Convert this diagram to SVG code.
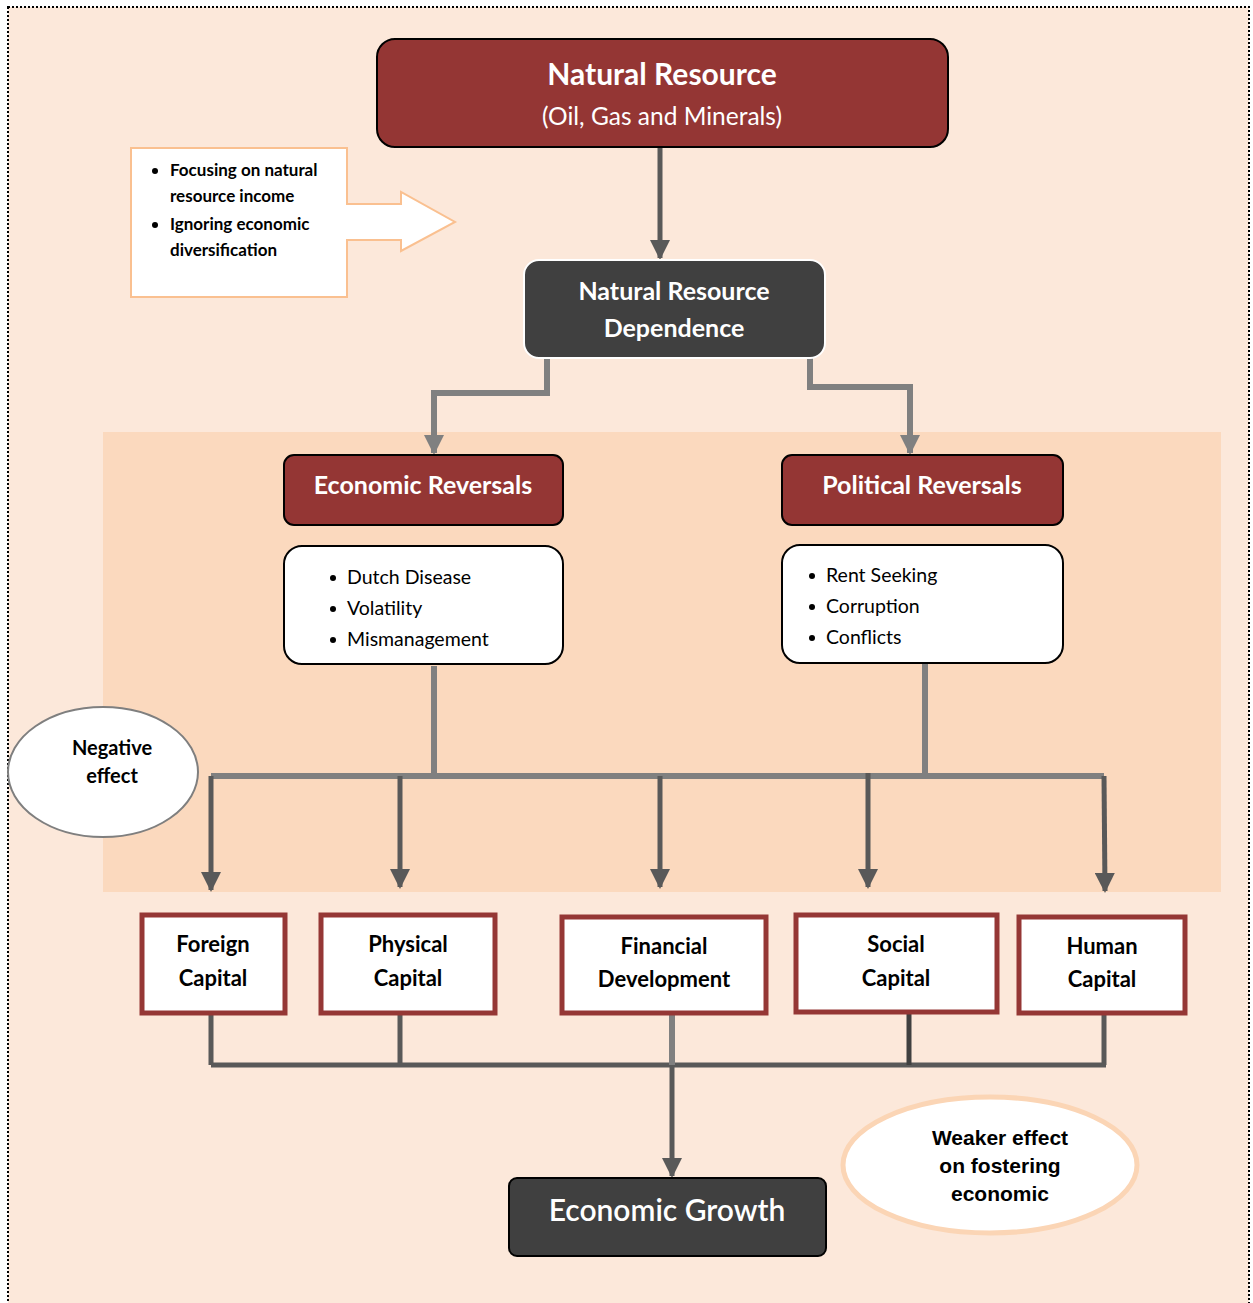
<svg xmlns="http://www.w3.org/2000/svg" width="1253" height="1303" viewBox="0 0 1253 1303">
<defs>
<style>
.t{font-family:Lato,"Open Sans","Liberation Sans",sans-serif;}
.w{fill:#fff;}
.b{font-weight:bold;}
.red{fill:#943634;stroke:#000;stroke-width:2;}
.dark{fill:#404040;}
.cap{fill:#fff;stroke:#953735;stroke-width:5;}
.lbl{font-family:Lato,"Open Sans","Liberation Sans",sans-serif;font-weight:bold;font-size:22px;fill:#000;text-anchor:middle;}
.c1{fill:none;stroke:#808080;stroke-width:6;}
.c2{fill:none;stroke:#595959;stroke-width:5;}
</style>
<marker id="ad" viewBox="0 0 10 10" refX="9" refY="5" markerWidth="4" markerHeight="4" orient="auto" markerUnits="strokeWidth">
<path d="M0,0 L10,5 L0,10 z" fill="#595959"/>
</marker>
<marker id="ag" viewBox="0 0 10 10" refX="9" refY="5" markerWidth="3.4" markerHeight="3.4" orient="auto" markerUnits="strokeWidth">
<path d="M0,0 L10,5 L0,10 z" fill="#808080"/>
</marker>
</defs>
<rect x="8" y="7" width="1241" height="1300" fill="#fce8da" stroke="#000" stroke-width="2" stroke-dasharray="2 2"/>
<rect x="103" y="432" width="1118" height="460" fill="#fbd9be"/>

<g id="connectors">
<line x1="660" y1="147" x2="660" y2="258" class="c2" marker-end="url(#ad)"/>
<polyline points="547,358 547,393 434,393 434,453" class="c1" marker-end="url(#ag)"/>
<polyline points="810,358 810,387 910,387 910,453" class="c1" marker-end="url(#ag)"/>
<line x1="434" y1="666" x2="434" y2="776" class="c1"/>
<line x1="925" y1="663" x2="925" y2="773" class="c1"/>
<line x1="211" y1="776" x2="1104" y2="776" class="c1" stroke-width="5"/>
<line x1="211" y1="776" x2="211" y2="890" class="c2" marker-end="url(#ad)"/>
<line x1="400" y1="776" x2="400" y2="887" class="c2" marker-end="url(#ad)"/>
<line x1="660" y1="776" x2="660" y2="887" class="c2" marker-end="url(#ad)"/>
<line x1="868" y1="773" x2="868" y2="887" class="c2" marker-end="url(#ad)"/>
<line x1="1104" y1="776" x2="1105" y2="891" class="c2" marker-end="url(#ad)"/>
<line x1="211" y1="1013" x2="211" y2="1065" class="c2"/>
<line x1="400" y1="1013" x2="400" y2="1065" class="c2"/>
<line x1="1104" y1="1013" x2="1104" y2="1065" class="c2"/>
<line x1="211" y1="1065" x2="1106" y2="1065" class="c2"/>
<line x1="672" y1="1013" x2="672" y2="1065" class="c1" stroke-width="5"/>
<line x1="909" y1="1012" x2="909" y2="1065" stroke="#404040" stroke-width="5"/>
<line x1="672" y1="1065" x2="672" y2="1176" class="c2" marker-end="url(#ad)"/>
</g>

<g id="natural-resource">
<rect x="377" y="39" width="571" height="108" rx="18" class="red"/>
<text x="662" y="85" class="t w b" font-size="30" text-anchor="middle">Natural Resource</text>
<text x="662" y="125" class="t w" font-size="24.5" text-anchor="middle">(Oil, Gas and Minerals)</text>
</g>

<g id="callout">
<path d="M131,148 H347 V204 H401 V192 L455,222 L401,251 V240 H347 V297 H131 Z" fill="#fff" stroke="#fac090" stroke-width="2"/>
<g class="t b" font-size="17" fill="#000">
<circle cx="155" cy="171" r="3"/>
<text x="170" y="176">Focusing on natural</text>
<text x="170" y="202">resource income</text>
<circle cx="155" cy="225" r="3"/>
<text x="170" y="230">Ignoring economic</text>
<text x="170" y="256">diversification</text>
</g>
</g>

<g id="dependence">
<rect x="524" y="260" width="301" height="98" rx="15" class="dark" stroke="#fff" stroke-width="2"/>
<text x="674" y="300" class="t w b" font-size="25" text-anchor="middle">Natural Resource</text>
<text x="674" y="337" class="t w b" font-size="25" text-anchor="middle">Dependence</text>
</g>

<g id="economic-reversals">
<rect x="284" y="455" width="279" height="70" rx="10" class="red"/>
<text x="423" y="494" class="t w b" font-size="25" text-anchor="middle">Economic Reversals</text>
</g>
<g id="political-reversals">
<rect x="782" y="455" width="281" height="70" rx="10" class="red"/>
<text x="922" y="494" class="t w b" font-size="25" text-anchor="middle">Political Reversals</text>
</g>

<g id="economic-list">
<rect x="284" y="546" width="279" height="118" rx="18" fill="#fff" stroke="#000" stroke-width="2"/>
<g class="t" font-size="19.5" fill="#000">
<circle cx="333" cy="578" r="3"/><text x="347" y="584">Dutch Disease</text>
<circle cx="333" cy="609" r="3"/><text x="347" y="615">Volatility</text>
<circle cx="333" cy="640" r="3"/><text x="347" y="646">Mismanagement</text>
</g>
</g>
<g id="political-list">
<rect x="782" y="545" width="281" height="118" rx="18" fill="#fff" stroke="#000" stroke-width="2"/>
<g class="t" font-size="19.5" fill="#000">
<circle cx="812" cy="576" r="3"/><text x="826" y="582">Rent Seeking</text>
<circle cx="812" cy="607" r="3"/><text x="826" y="613">Corruption</text>
<circle cx="812" cy="638" r="3"/><text x="826" y="644">Conflicts</text>
</g>
</g>

<g id="negative-effect">
<ellipse cx="103" cy="772" rx="95" ry="65" fill="#fff" stroke="#7f7f7f" stroke-width="2"/>
<text x="112" y="755" class="lbl" style="font-size:20px">Negative</text>
<text x="112" y="783" class="lbl" style="font-size:20px">effect</text>
</g>

<g id="foreign-capital">
<rect x="142" y="915" width="143" height="98" class="cap"/>
<text x="213" y="952" class="lbl">Foreign</text>
<text x="213" y="986" class="lbl">Capital</text>
</g>
<g id="physical-capital">
<rect x="321" y="915" width="174" height="98" class="cap"/>
<text x="408" y="952" class="lbl">Physical</text>
<text x="408" y="986" class="lbl">Capital</text>
</g>
<g id="financial-development">
<rect x="562" y="917" width="204" height="96" class="cap"/>
<text x="664" y="954" class="lbl">Financial</text>
<text x="664" y="987" class="lbl">Development</text>
</g>
<g id="social-capital">
<rect x="796" y="915" width="201" height="97" class="cap"/>
<text x="896" y="952" class="lbl">Social</text>
<text x="896" y="986" class="lbl">Capital</text>
</g>
<g id="human-capital">
<rect x="1019" y="917" width="166" height="96" class="cap"/>
<text x="1102" y="954" class="lbl">Human</text>
<text x="1102" y="987" class="lbl">Capital</text>
</g>

<g id="economic-growth">
<rect x="509" y="1178" width="317" height="78" rx="8" class="dark" stroke="#000" stroke-width="2"/>
<text x="667" y="1221" class="t w" font-size="30" font-weight="600" text-anchor="middle">Economic Growth</text>
</g>

<g id="weaker-effect">
<ellipse cx="990" cy="1165" rx="147" ry="68" fill="#fff" stroke="#fbd5b5" stroke-width="5"/>
<g font-family="'Liberation Sans',Arial,sans-serif" font-weight="bold" font-size="21" text-anchor="middle" fill="#000">
<text x="1000" y="1145">Weaker effect</text>
<text x="1000" y="1173">on fostering</text>
<text x="1000" y="1201">economic</text>
</g>
</g>
</svg>
